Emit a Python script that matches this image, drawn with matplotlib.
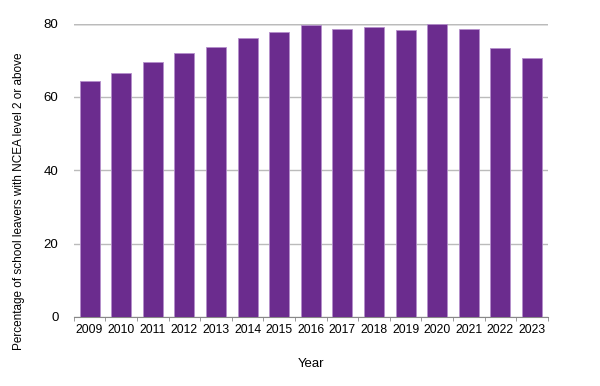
import numpy as np
import matplotlib.pyplot as plt

years = ['2009', '2010', '2011', '2012', '2013', '2014', '2015', '2016',
         '2017', '2018', '2019', '2020', '2021', '2022', '2023']
pct = [64.2, 66.4, 69.4, 71.9, 73.5, 76.0, 77.6, 79.5,
       78.6, 79.1, 78.3, 79.9, 78.6, 73.2, 70.5]

plt.rcParams['font.family'] = ['Liberation Sans', 'DejaVu Sans']

fig = plt.figure(figsize=(6, 3.86), dpi=100)
ax = fig.add_axes([0.123, 0.179, 0.79, 0.76])

x = np.arange(len(years))
ax.bar(x, pct, width=0.63, color='#6b2c8e', edgecolor='#b48fcb', linewidth=0.6, zorder=3)

ax.set_xlim(-0.5, len(years) - 0.5)
ax.set_ylim(0, 80)
ax.set_yticks([0, 20, 40, 60, 80])
ax.yaxis.grid(True, color='#bbbbbb', linewidth=1, zorder=0)
ax.axhline(80, color='#888888', linewidth=1, zorder=1)

ax.set_xticks(x)
ax.set_xticklabels(years, fontsize=8.8)
ax.set_xticks(np.arange(-0.5, len(years), 1), minor=True)
ax.tick_params(axis='x', which='major', length=0, pad=5)
ax.tick_params(axis='x', which='minor', length=3, color='#888888')
ax.tick_params(axis='y', length=0, labelsize=9.5, pad=11)

for s in ['top', 'right', 'left']:
    ax.spines[s].set_visible(False)
ax.spines['bottom'].set_color('#888888')

ax.set_xlabel('Year', fontsize=9.5, labelpad=16)
fig.text(0.032, 0.479, 'Percentage of school leavers with NCEA level 2 or above',
         rotation=90, fontsize=8.5, ha='center', va='center')

fig.savefig('out.png', dpi=100)
